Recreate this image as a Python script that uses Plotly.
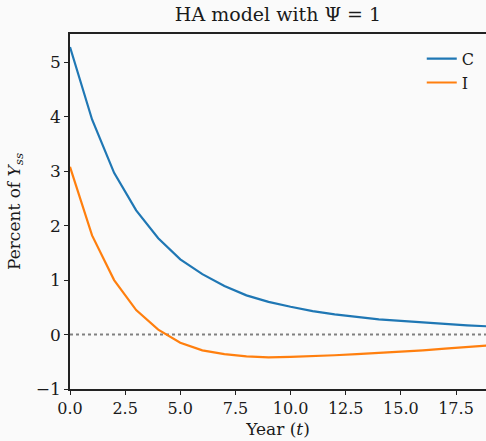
import plotly.graph_objects as go

years = list(range(0, 20))
C = [5.28, 3.95, 2.97, 2.28, 1.77, 1.38, 1.11, 0.89, 0.72, 0.60,
     0.51, 0.43, 0.37, 0.32, 0.28, 0.25, 0.22, 0.19, 0.17, 0.15]
I = [3.08, 1.82, 1.00, 0.45, 0.09, -0.15, -0.29, -0.36, -0.40, -0.42,
     -0.41, -0.40, -0.38, -0.36, -0.34, -0.31, -0.29, -0.26, -0.23, -0.20]
xticks = [0, 2.5, 5, 7.5, 10, 12.5, 15, 17.5]
yticks = [-1, 0, 1, 2, 3, 4, 5]

font = "DejaVu Serif"
fig = go.Figure()
fig.add_trace(go.Scatter(x=years, y=C, mode="lines", name="C",
                         line=dict(color="#1f77b4", width=2.2)))
fig.add_trace(go.Scatter(x=years, y=I, mode="lines", name="I",
                         line=dict(color="#ff7f0e", width=2.2)))
fig.add_hline(y=0, line=dict(color="gray", width=2, dash="dot"), layer="below")

fig.update_layout(
    width=486, height=441,
    margin=dict(l=70, r=0, t=34, b=52),
    paper_bgcolor="#fafafa", plot_bgcolor="#fafafa",
    font=dict(family=font, size=16, color="#1a1a1a"),
    title=dict(text="HA model with Ψ = 1", x=0.5, xanchor="center", xref="paper",
               y=0.968, yanchor="middle", font=dict(size=19, family=font, color="#1a1a1a")),
    showlegend=True,
    legend=dict(x=0.985, y=0.978, xanchor="right", yanchor="top",
                bgcolor="rgba(0,0,0,0)", font=dict(size=16, family=font),
                itemwidth=30, tracegroupgap=4),
    xaxis=dict(range=[0, 18.86], tickvals=xticks, ticktext=[f"{v:.1f}" for v in xticks],
               showgrid=False, zeroline=False, showline=True, linecolor="#222",
               linewidth=1.5, mirror=True, ticks="outside", ticklen=4, tickwidth=1.2,
               tickcolor="#222", tickfont=dict(size=16),
               title=dict(text="Year (<i>t</i>)", font=dict(size=17), standoff=6)),
    yaxis=dict(range=[-1, 5.52], tickvals=yticks,
               showgrid=False, zeroline=False, showline=True, linecolor="#222",
               linewidth=1.5, mirror=False, ticks="outside", ticklen=4, tickwidth=1.2,
               tickcolor="#222", tickfont=dict(size=17),
               title=dict(text="Percent of <i>Y</i><sub><i>ss</i></sub>", font=dict(size=17),
                          standoff=11)),
)
fig.write_html("out.html")
